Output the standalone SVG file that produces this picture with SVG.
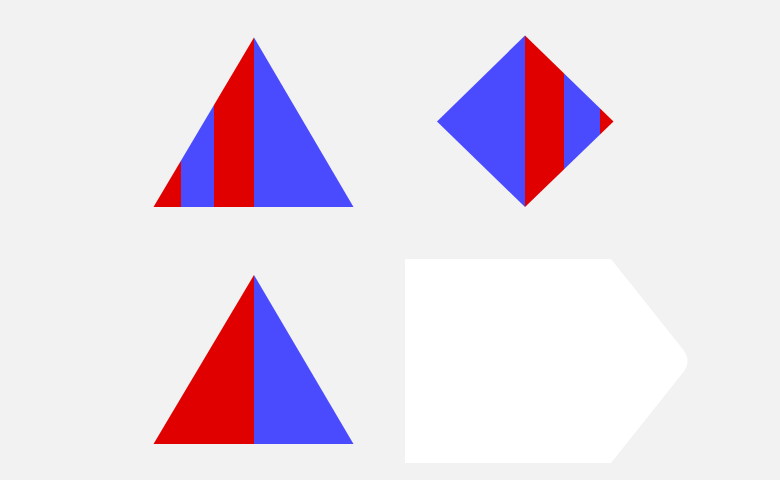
<svg xmlns="http://www.w3.org/2000/svg" width="780" height="480" viewBox="0 0 780 480">
<defs>
<style>
.r{fill:#e00000}.b{fill:#4a4aff}
</style>
<clipPath id="c1"><polygon points="254,37.5 353.5,207 153.5,207"/></clipPath>
<clipPath id="c2"><polygon points="525,35.5 613.5,121.5 525,207 437,121.5"/></clipPath>
<clipPath id="c3"><polygon points="254,275 353.5,444 153.5,444"/></clipPath>
</defs>
<rect width="780" height="480" fill="#f2f2f2"/>
<g id="triangle1" clip-path="url(#c1)">
<rect class="r" x="150" y="30" width="31" height="180"/>
<rect class="b" x="181" y="30" width="33" height="180"/>
<rect class="r" x="214" y="30" width="40" height="180"/>
<rect class="b" x="254" y="30" width="105" height="180"/>
</g>
<g id="diamond" clip-path="url(#c2)">
<rect class="b" x="430" y="30" width="95" height="180"/>
<rect class="r" x="525" y="30" width="39" height="180"/>
<rect class="b" x="564" y="30" width="36" height="180"/>
<rect class="r" x="600" y="30" width="20" height="180"/>
</g>
<g id="triangle2" clip-path="url(#c3)">
<rect class="r" x="150" y="270" width="104" height="180"/>
<rect class="b" x="254" y="270" width="105" height="180"/>
</g>
<g id="pentagon">
<path d="M405,259 H611 L683,349.5 Q692,361 683,372.5 L611,463 H405 Z" fill="#ffffff"/>
</g>
<g id="connectors"/>
</svg>
